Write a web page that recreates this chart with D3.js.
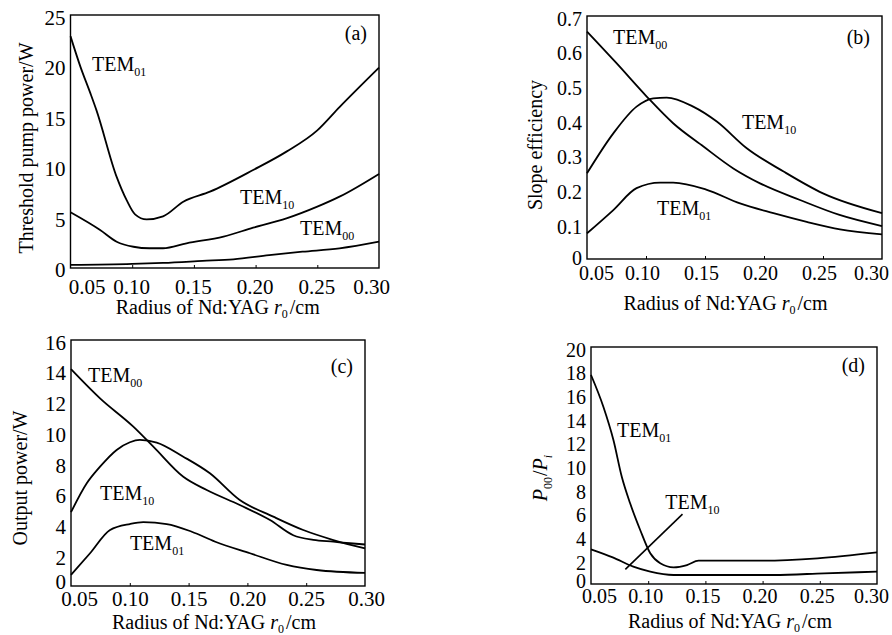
<!DOCTYPE html>
<html>
<head>
<meta charset="utf-8">
<script src="https://cdn.jsdelivr.net/npm/d3@7/dist/d3.min.js"></script>
<style>
  body { margin: 0; background: #fff; }
  svg, svg text { font-family: "Liberation Serif", "Times New Roman", "DejaVu Serif", serif; }
</style>
</head>
<body>
<svg id="fig" width="892" height="635" font-family="Liberation Serif, DejaVu Serif, serif"></svg>
<script>
// shared x ticks (radius, cm)
const xTicks = [0.05, 0.10, 0.15, 0.20, 0.25, 0.30];

// (a) threshold pump power / W
const yTicksA = [0, 5, 10, 15, 20, 25];
const aTem01 = [[0.05, 22.9], [0.058, 19.9], [0.066, 17.3], [0.071, 15.6], [0.0874, 9.0], [0.0955, 6.7],
  [0.1023, 5.3], [0.1117, 4.8], [0.125, 5.1], [0.1414, 6.55], [0.163, 7.54], [0.198, 9.68],
  [0.225, 11.5], [0.25, 13.6], [0.268, 15.9], [0.30, 19.8]];
const aTem10 = [[0.05, 5.5], [0.074, 3.75], [0.0874, 2.6], [0.101, 2.1], [0.114, 1.95], [0.125, 1.95],
  [0.144, 2.44], [0.174, 3.1], [0.198, 3.98], [0.225, 4.9], [0.25, 6.06], [0.268, 7.05], [0.30, 9.3]];
const aTem00 = [[0.05, 0.3], [0.10, 0.4], [0.125, 0.5], [0.157, 0.7], [0.182, 0.86], [0.211, 1.28],
  [0.238, 1.61], [0.268, 1.94], [0.30, 2.6]];

// (b) slope efficiency
const yTicksB = [0, 0.1, 0.2, 0.3, 0.4, 0.5, 0.6, 0.7];
const bTem00 = [[0.05, 0.655], [0.075, 0.564], [0.1006, 0.468], [0.123, 0.391], [0.1487, 0.324],
  [0.174, 0.261], [0.1966, 0.218], [0.2305, 0.17], [0.264, 0.127], [0.30, 0.095]];
const bTem10 = [[0.05, 0.247], [0.0723, 0.362], [0.092, 0.439], [0.1062, 0.463], [0.1175, 0.465],
  [0.14, 0.439], [0.16, 0.396], [0.1854, 0.319], [0.2166, 0.252], [0.25, 0.189], [0.30, 0.132]];
const bTem01 = [[0.05, 0.074], [0.0723, 0.141], [0.092, 0.204], [0.112, 0.22], [0.123, 0.22],
  [0.151, 0.2], [0.1797, 0.16], [0.208, 0.132], [0.2362, 0.107], [0.2644, 0.0855], [0.30, 0.071]];

// (c) output power / W
const yTicksC = [0, 2, 4, 6, 8, 10, 12, 14, 16];
const cTem00 = [[0.05, 14.1], [0.0747, 12.2], [0.103, 10.36], [0.12, 9.06], [0.1455, 7.1],
  [0.1654, 6.24], [0.1935, 5.27], [0.2192, 4.29], [0.239, 3.3], [0.256, 3.0], [0.2731, 2.88],
  [0.2872, 2.78], [0.30, 2.7]];
const cTem10 = [[0.05, 4.8], [0.0634, 6.68], [0.0747, 7.76], [0.0888, 8.85], [0.1001, 9.35],
  [0.1086, 9.5], [0.1229, 9.33], [0.1455, 8.41], [0.1681, 7.33], [0.1935, 5.59], [0.222, 4.51],
  [0.2475, 3.64], [0.2731, 2.99], [0.30, 2.45]];
const cTem01 = [[0.05, 0.72], [0.0662, 2.13], [0.0832, 3.64], [0.1001, 4.03], [0.1115, 4.15],
  [0.1314, 4.03], [0.1527, 3.53], [0.1727, 2.88], [0.2022, 2.13], [0.2334, 1.37], [0.2589, 1.04],
  [0.30, 0.85]];

// (d) P00/Pi
const yTicksD = [0, 2, 4, 6, 8, 10, 12, 14, 16, 18, 20];
const dTem01 = [[0.05, 17.64], [0.0608, 14.96], [0.0696, 12.15], [0.0769, 9.05], [0.0842, 6.81],
  [0.093, 4.56], [0.1018, 2.59], [0.1105, 1.75], [0.1222, 1.41], [0.1339, 1.6], [0.1441, 1.97],
  [0.166, 1.97], [0.2011, 1.97], [0.248, 2.17], [0.30, 2.67]];
const dTem10 = [[0.05, 2.93], [0.069, 2.25], [0.087, 1.46], [0.1018, 1.04], [0.1222, 0.76],
  [0.166, 0.76], [0.21, 0.76], [0.2538, 0.9], [0.30, 1.04]];
const dLeader = [[0.08, 1.24], [0.13, 5.9]];

const yTitles = ["Threshold pump power/W", "Slope efficiency", "Output power/W", null];

const panels = [
  { tag: "(a)", box: [70.5, 15, 379, 268], yMax: 25, yTicks: yTicksA, yFmt: d3.format("d"), fs: 21,
    series: [aTem01, aTem10, aTem00], xLabY: 26, firstDx: 16, lastDx: -8, innerDx: -1, zeroDy: 8,
    tagPos: [12, 25], yLab: { x: 33, y: 148 }, xLab: { dx: -7, y: 46 },
    labels: [["01", 0.0674, 19.5], ["10", 0.1874, 6.32], ["00", 0.236, 3.26]] },
  { tag: "(b)", box: [587, 16, 882, 259], yMax: 0.7, yTicks: yTicksB, yFmt: d => d === 0 ? "0" : d3.format(".1f")(d), fs: 20,
    series: [bTem00, bTem10, bTem01], xLabY: 21, firstDx: 9, lastDx: -11, innerDx: -4, zeroDy: 5,
    tagPos: [12, 28], yLab: { x: 542, y: 145 }, xLab: { dx: -9, y: 51 },
    labels: [["00", 0.072, 0.62], ["10", 0.1813, 0.375], ["01", 0.1093, 0.127]] },
  { tag: "(c)", box: [71, 340, 365, 586], yMax: 16, yTicks: yTicksC, yFmt: d3.format("d"), fs: 21,
    series: [cTem00, cTem10, cTem01], xLabY: 20, firstDx: 8, lastDx: 1, innerDx: 0, zeroDy: 2,
    tagPos: [12, 33], yLab: { x: 27, y: 478 }, xLab: { dx: -4, y: 43 },
    labels: [["00", 0.0645, 13.27], ["10", 0.0747, 5.59], ["01", 0.1001, 2.34]] },
  { tag: "(d)", box: [591, 347, 877, 584], yMax: 20, yTicks: yTicksD, yFmt: d3.format("d"), fs: 20,
    series: [dTem01, dTem10], xLabY: 19, firstDx: 8, lastDx: -6, innerDx: -3, zeroDy: 3,
    tagPos: [12, 25], yLab: { x: 547, y: 478, ratio: true }, xLab: { dx: -4, y: 44 },
    labels: [["01", 0.0728, 12.4], ["10", 0.1149, 6.33]], leader: dLeader }
];

const svg = d3.select("#fig");
const serif = "Liberation Serif, DejaVu Serif, serif";

panels.forEach((p, pi) => {
  const [x0, y0, x1, y1] = p.box;
  const x = d3.scaleLinear().domain([0.05, 0.30]).range([x0, x1]);
  const y = d3.scaleLinear().domain([0, p.yMax]).range([y1, y0]);
  const g = svg.append("g").attr("font-family", serif);

  // bottom axis: tiny inward ticks, end labels nudged inside
  const xa = g.append("g")
    .attr("transform", `translate(0,${y1})`)
    .call(d3.axisBottom(x).tickValues(xTicks).tickFormat(d3.format(".2f")).tickSizeInner(-3).tickSizeOuter(0));
  xa.attr("font-size", p.fs).attr("font-family", serif);
  xa.select(".domain").remove();
  xa.selectAll(".tick line").attr("stroke-width", 1)
    .filter((d, i) => i === 0 || i === xTicks.length - 1).remove();
  xa.selectAll(".tick text")
    .attr("y", p.xLabY).attr("dy", 0).attr("fill", "#000")
    .attr("dx", (d, i) => i === 0 ? p.firstDx : i === xTicks.length - 1 ? p.lastDx : p.innerDx);

  const ya = g.append("g")
    .attr("transform", `translate(${x0},0)`)
    .call(d3.axisLeft(y).tickValues(p.yTicks).tickFormat(p.yFmt).tickSize(0).tickPadding(5));
  ya.attr("font-size", p.fs).attr("font-family", serif);
  ya.select(".domain").remove();
  ya.selectAll(".tick text").attr("dy", d => d === 0 ? p.zeroDy : 9).attr("fill", "#000");

  g.append("rect")
    .attr("x", x0).attr("y", y0).attr("width", x1 - x0).attr("height", y1 - y0)
    .attr("fill", "none").attr("stroke", "#000").attr("stroke-width", 1.4);

  const line = d3.line().x(d => x(d[0])).y(d => y(d[1])).curve(d3.curveMonotoneX);
  p.series.forEach(s => {
    g.append("path").datum(s)
      .attr("fill", "none").attr("stroke", "#000").attr("stroke-width", 1.8)
      .attr("stroke-linejoin", "round").attr("d", line);
  });

  if (p.leader) {
    g.append("path").datum(p.leader)
      .attr("fill", "none").attr("stroke", "#000").attr("stroke-width", 1.6)
      .attr("d", d3.line().x(d => x(d[0])).y(d => y(d[1])));
  }

  // mode labels
  p.labels.forEach(([sub, lx, ly]) => {
    const t = g.append("text").attr("x", x(lx)).attr("y", y(ly)).attr("font-size", 20);
    t.append("tspan").text("TEM");
    t.append("tspan").attr("font-size", 12).attr("dy", 5).text(sub);
  });

  g.append("text").attr("x", x1 - p.tagPos[0]).attr("y", y0 + p.tagPos[1])
    .attr("text-anchor", "end").attr("font-size", 20).text(p.tag);

  // x title
  const xt = g.append("text")
    .attr("x", (x0 + x1) / 2 + p.xLab.dx).attr("y", y1 + p.xLab.y)
    .attr("text-anchor", "middle").attr("font-size", 20);
  xt.append("tspan").text("Radius of Nd:YAG ");
  xt.append("tspan").attr("font-style", "italic").text("r");
  xt.append("tspan").attr("font-size", 12).attr("dy", 4).text("0");
  xt.append("tspan").attr("dy", -4).attr("dx", 2).text("/cm");

  // y title
  const yt = g.append("text")
    .attr("transform", `translate(${p.yLab.x},${p.yLab.y}) rotate(-90)`)
    .attr("text-anchor", "middle").attr("font-size", 20);
  if (p.yLab.ratio) {
    yt.append("tspan").attr("font-style", "italic").text("P");
    yt.append("tspan").attr("font-size", 12).attr("dy", 5).text("00");
    yt.append("tspan").attr("dy", -5).attr("dx", 1).text("/");
    yt.append("tspan").attr("font-style", "italic").text("P");
    yt.append("tspan").attr("font-size", 12).attr("font-style", "italic").attr("dy", 5).text("i");
  } else {
    yt.text(yTitles[pi]);
  }
});
</script>
</body>
</html>
